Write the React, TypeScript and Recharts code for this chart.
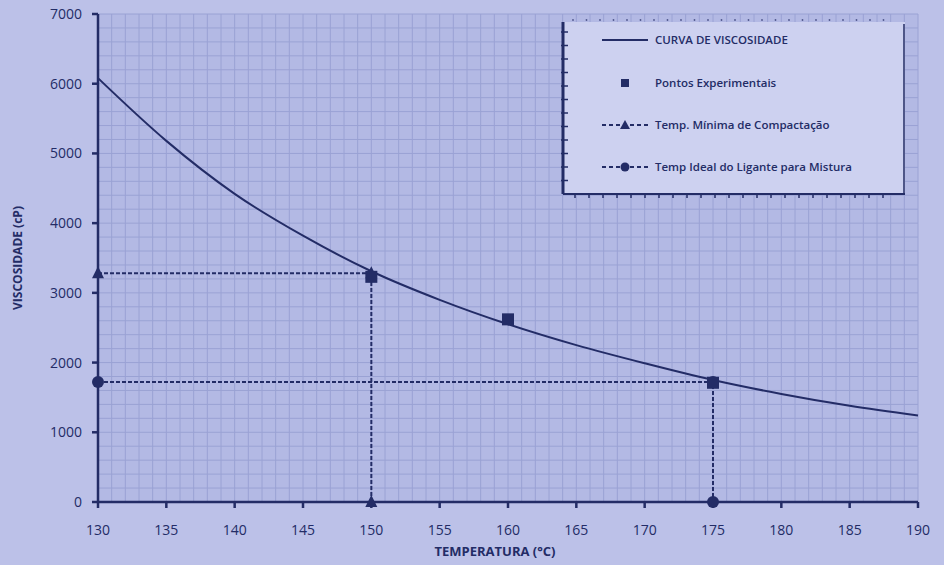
import React from 'react'
import { ComposedChart, Line, Scatter, XAxis, YAxis, CartesianGrid } from 'recharts'

// curva de viscosidade
const curveTemps = [130, 135, 140, 145, 150, 155, 160, 165, 170, 175, 180, 185, 190]
const curveVisc = [6080, 5180, 4420, 3820, 3310, 2900, 2550, 2250, 1990, 1750, 1550, 1380, 1240]

// pontos experimentais
const expTemps = [150, 160, 175]
const expVisc = [3230, 2620, 1710]

// temp. mínima de compactação
const compTemps = [130, 150, 150]
const compVisc = [3280, 3280, 0]

// temp. ideal do ligante para mistura
const mixTemps = [130, 175, 175]
const mixVisc = [1720, 1720, 0]

const xTicks = [130, 135, 140, 145, 150, 155, 160, 165, 170, 175, 180, 185, 190]
const yTicks = [0, 1000, 2000, 3000, 4000, 5000, 6000, 7000]

const NAVY = '#232c66'
const FONT = '"Open Sans", "Liberation Sans", sans-serif'

const zip = (t: number[], v: number[]) => t.map((x, i) => ({ t: x, v: v[i] }))
const curveData = zip(curveTemps, curveVisc)
const expData = zip(expTemps, expVisc)
const compData = zip(compTemps, compVisc)
const mixData = zip(mixTemps, mixVisc)

// grade fina: 1 °C e 200 cP
const minorX = Array.from({ length: 61 }, (_, i) => 130 + i)
const minorY = Array.from({ length: 36 }, (_, i) => i * 200)

const Square = (props: any) => {
  const { cx, cy } = props
  if (cx == null || cy == null) return null
  return <rect x={cx - 6} y={cy - 6} width={12} height={12} fill={NAVY} />
}

const Triangle = (props: any) => {
  const { cx, cy } = props
  if (cx == null || cy == null) return null
  return <polygon points={`${cx},${cy - 7} ${cx - 6},${cy + 5} ${cx + 6},${cy + 5}`} fill={NAVY} />
}

const Circle = (props: any) => {
  const { cx, cy } = props
  if (cx == null || cy == null) return null
  return <circle cx={cx} cy={cy} r={6} fill={NAVY} />
}

const LegendBox = () => {
  const w = 342
  const h = 172
  const leftTicks = Array.from({ length: 12 }, (_, i) => 14 + i * 13.5)
  const bottomTicks = Array.from({ length: 23 }, (_, i) => 14 + i * 14)
  const topDots = Array.from({ length: 24 }, (_, i) => 12 + i * 13.5)
  const rows = [
    { y: 22, label: 'CURVA DE VISCOSIDADE', kind: 'line' },
    { y: 65, label: 'Pontos Experimentais', kind: 'square' },
    { y: 107, label: 'Temp. Mínima de Compactação', kind: 'tri' },
    { y: 149, label: 'Temp Ideal do Ligante para Mistura', kind: 'circ' },
  ]
  return (
    <svg width={w + 4} height={h + 8} style={{ display: 'block' }}>
      <rect x={2} y={4} width={w} height={h} fill="#cdd1f0" />
      {topDots.map((x, i) => (
        <circle key={'d' + i} cx={x} cy={2} r={0.9} fill={NAVY} opacity={0.7} />
      ))}
      <line x1={2} y1={4} x2={2} y2={h + 4} stroke={NAVY} strokeWidth={3} />
      {leftTicks.map((y, i) => (
        <line key={'l' + i} x1={0} y1={y} x2={7} y2={y} stroke={NAVY} strokeWidth={1.5} />
      ))}
      <line x1={2} y1={h + 4} x2={w + 2} y2={h + 4} stroke={NAVY} strokeWidth={2} />
      {bottomTicks.map((x, i) => (
        <line key={'b' + i} x1={x} y1={h + 4} x2={x} y2={h + 8} stroke={NAVY} strokeWidth={1.5} />
      ))}
      <line x1={w + 1} y1={6} x2={w + 1} y2={h + 4} stroke={NAVY} strokeWidth={1.5} />
      {rows.map((r) => (
        <g key={r.label}>
          {r.kind === 'line' && <line x1={41} y1={r.y} x2={87} y2={r.y} stroke={NAVY} strokeWidth={1.8} />}
          {r.kind === 'square' && <rect x={60} y={r.y - 4} width={8} height={8} fill={NAVY} />}
          {(r.kind === 'tri' || r.kind === 'circ') && (
            <line x1={41} y1={r.y} x2={87} y2={r.y} stroke={NAVY} strokeWidth={1.8} strokeDasharray="4 3" />
          )}
          {r.kind === 'tri' && <polygon points={`64,${r.y - 5} 59,${r.y + 4} 69,${r.y + 4}`} fill={NAVY} />}
          {r.kind === 'circ' && <circle cx={64} cy={r.y} r={4.5} fill={NAVY} />}
          <text x={94} y={r.y + 4} fill={NAVY} fontSize={11.5} fontWeight={600} fontFamily={FONT}>
            {r.label}
          </text>
        </g>
      ))}
    </svg>
  )
}

const vGen = (p: any) => {
  const s = p?.xAxis?.scale
  if (typeof s === 'function') return minorX.map((v) => s(v))
  const o = p.offset
  return minorX.map((v) => o.left + ((v - 130) / 60) * o.width)
}

const hGen = (p: any) => {
  const s = p?.yAxis?.scale
  if (typeof s === 'function') return minorY.map((v) => s(v))
  const o = p.offset
  return minorY.map((v) => o.top + o.height - (v / 7000) * o.height)
}

export default function App() {
  return (
    <div style={{ position: 'relative', width: 944, height: 565, background: '#bcc1e8', fontFamily: FONT }}>
      <style>{'body{margin:0}'}</style>
      <ComposedChart width={944} height={565} margin={{ top: 14, right: 26, bottom: 13, left: 0 }}>
        <CartesianGrid
          fill="#b3b9e4"
          stroke="#9aa2d4"
          strokeWidth={1}
          verticalCoordinatesGenerator={vGen}
          horizontalCoordinatesGenerator={hGen}
        />
        <XAxis
          dataKey="t"
          type="number"
          domain={[130, 190]}
          ticks={xTicks}
          interval={0}
          height={50}
          stroke={NAVY}
          strokeWidth={2.5}
          tickSize={6}
          tickMargin={13}
          tick={{ fill: NAVY, fontSize: 14, fontFamily: FONT, dy: 4 }}
          label={{
            value: 'TEMPERATURA (°C)',
            position: 'insideBottom',
            offset: -4,
            dx: -13,
            style: { fill: NAVY, fontSize: 13, fontWeight: 700, fontFamily: FONT },
          }}
        />
        <YAxis
          type="number"
          domain={[0, 7000]}
          ticks={yTicks}
          interval={0}
          width={98}
          stroke={NAVY}
          strokeWidth={2.5}
          tickSize={6}
          tickMargin={10}
          tick={{ fill: NAVY, fontSize: 14, fontFamily: FONT }}
          label={{
            value: 'VISCOSIDADE (cP)',
            angle: -90,
            position: 'insideLeft',
            offset: 18,
            style: { textAnchor: 'middle', fill: NAVY, fontSize: 12, fontWeight: 700, fontFamily: FONT },
          }}
        />
        <Line
          data={compData}
          dataKey="v"
          type="linear"
          stroke={NAVY}
          strokeWidth={2}
          strokeDasharray="4 2"
          dot={<Triangle />}
          activeDot={false}
          isAnimationActive={false}
        />
        <Line
          data={mixData}
          dataKey="v"
          type="linear"
          stroke={NAVY}
          strokeWidth={2}
          strokeDasharray="4 2"
          dot={<Circle />}
          activeDot={false}
          isAnimationActive={false}
        />
        <Line
          data={curveData}
          dataKey="v"
          type="monotone"
          stroke={NAVY}
          strokeWidth={2}
          dot={false}
          activeDot={false}
          isAnimationActive={false}
        />
        <Scatter data={expData} dataKey="v" shape={<Square />} isAnimationActive={false} />
      </ComposedChart>
      <div style={{ position: 'absolute', left: 561, top: 18 }}>
        <LegendBox />
      </div>
    </div>
  )
}
